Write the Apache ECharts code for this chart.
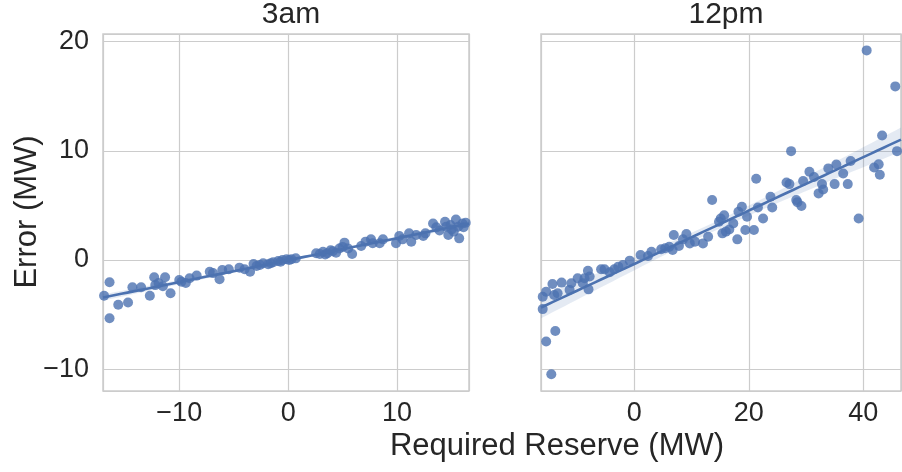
<!DOCTYPE html>
<html>
<head>
<meta charset="utf-8">
<script src="https://cdn.jsdelivr.net/npm/echarts@6/dist/echarts.min.js"></script>
<style>html,body{margin:0;padding:0;background:#fff;}#c{width:902px;height:472px;}</style>
</head>
<body>
<div id="c"></div>
<script>
// ---- data ----
const panelTitles = ['3am', '12pm'];
const xLabel = 'Required Reserve (MW)';
const yLabel = 'Error (MW)';

const x3am = [-16.9,-16.4,-16.4,-15.6,-14.7,-14.3,-13.5,-12.7,-12.3,-12.2,-11.9,-11.3,-11.5,-10.8,-10.0,-9.8,-9.4,-9.05,-8.4,-7.2,-6.9,-6.3,-6.05,-5.45,-4.47,-4.0,-3.5,-3.18,-2.9,-2.6,-2.3,-1.84,-1.6,-1.38,-0.92,-0.7,-0.52,-0.15,0.1,0.3,0.7,2.57,2.9,3.2,3.4,3.6,3.9,4.1,4.4,4.7,5.0,5.17,5.5,5.87,6.7,7.1,7.6,7.76,8.4,8.7,9.9,10.2,10.5,11.1,11.3,11.75,12.4,12.6,13.3,13.6,13.9,14.4,14.5,14.7,14.9,15.0,15.2,15.4,15.6,15.7,16.0,16.1,16.3];
const y3am = [-3.27,-2.04,-5.34,-4.1,-3.9,-2.5,-2.5,-3.27,-1.58,-2.3,-2.1,-1.58,-2.4,-3.05,-1.83,-2.0,-2.1,-1.68,-1.43,-1.07,-1.2,-1.77,-0.92,-0.85,-0.70,-0.85,-1.07,-0.37,-0.55,-0.45,-0.30,-0.39,-0.3,-0.21,-0.09,-0.15,0,0.06,0.0,0.06,0.15,0.61,0.55,0.76,0.5,0.61,0.9,0.8,0.67,1.06,1.2,1.59,1.06,0.55,1.28,1.68,1.89,1.53,1.53,1.89,1.53,2.2,1.89,2.44,1.68,2.29,2.2,2.44,3.35,2.99,2.7,3.5,3.05,2.29,3.2,2.8,2.6,3.7,3.05,1.98,3.35,3.0,3.41];

const x12pm = [40.6,45.6,43.3,45.9,27.4,41.9,42.7,42.9,39.2,37.8,37.3,36.5,35.3,35.0,33.9,32.8,33.0,32.2,31.4,30.6,29.5,29.2,28.5,28.3,27.1,26.6,24.1,23.8,22.5,21.6,21.3,20.9,19.7,19.4,18.8,18.2,18.0,17.3,16.6,16.0,15.7,15.4,15.1,14.8,13.6,12.9,12.0,10.6,9.7,9.1,8.5,7.8,6.9,6.7,6.1,5.4,4.7,3.0,2.4,1.1,-0.8,-2.0,-2.8,-3.5,-4.3,-5.2,-5.8,-8.1,-7.8,-8.7,-8.0,-9.0,-9.9,-11.0,-11.3,-12.7,-13.4,-14.3,-14.0,-15.4,-16.0,-16.0,-15.4,-13.8,-14.5];
const y12pm = [19.2,15.9,11.4,9.97,9.97,8.48,8.76,7.8,3.8,9.06,6.95,7.93,8.75,6.95,8.39,6.95,6.46,6.1,7.6,8.08,7.23,4.94,5.3,5.5,6.95,7.1,4.8,5.8,3.8,4.8,7.44,2.74,3.96,2.74,4.88,4.42,1.89,3.35,2.8,2.6,4.1,2.44,3.8,3.5,5.49,2.13,1.52,1.68,1.52,2.38,1.89,1.28,2.29,0.92,1.22,1.07,0.98,0.76,0.37,0.46,-0.06,-0.46,-0.61,-0.85,-1.13,-0.85,-0.85,-0.98,-1.52,-1.68,-2.69,-2.13,-1.68,-2.13,-2.74,-2.07,-3.05,-2.2,-3.2,-2.9,-3.36,-4.5,-7.47,-6.5,-10.46];

const xRange3am = [-17.0, 16.6];
const xRange12pm = [-16.3, 46.6];
const yRange = [-12.0, 20.7];

// ---- regression (fit + robust 95% band computed from the data) ----
function regress(xs, ys, range) {
  const n = xs.length;
  let mx = 0, my = 0;
  for (let i = 0; i < n; i++) { mx += xs[i]; my += ys[i]; }
  mx /= n; my /= n;
  let sxx = 0, sxy = 0;
  for (let i = 0; i < n; i++) { sxx += (xs[i]-mx)*(xs[i]-mx); sxy += (xs[i]-mx)*(ys[i]-my); }
  const b = sxy / sxx, a = my - b * mx;
  let sr2 = 0, sxr2 = 0;
  for (let i = 0; i < n; i++) {
    const r = ys[i] - a - b*xs[i];
    sr2 += r*r;
    sxr2 += (xs[i]-mx)*(xs[i]-mx)*r*r;
  }
  const varMean = sr2 / (n * (n - 2));
  const varB = sxr2 / (sxx * sxx) * n / (n - 2);
  const line = [], upper = [], lower = [];
  const steps = 60;
  for (let k = 0; k <= steps; k++) {
    const x = range[0] + (range[1]-range[0]) * k / steps;
    const yh = a + b * x;
    const se = Math.sqrt(varMean + (x-mx)*(x-mx)*varB);
    line.push([x, yh]);
    upper.push([x, yh + 1.96*se]);
    lower.push([x, yh - 1.96*se]);
  }
  return {line, upper, lower};
}

const fit3am = regress(x3am, y3am, xRange3am);
const fit12pm = regress(x12pm, y12pm, xRange12pm);

const BLUE = '#4c72b0';
const TXT = '#262626';
const FONT = '"Liberation Sans", Arial, sans-serif';
const fmt = v => (v < 0 ? '\u2212' + Math.abs(v) : String(v));

function zip(xs, ys) { return xs.map((x, i) => [x, ys[i]]); }

function bandSeries(fit, idx) {
  return {
    type: 'custom', xAxisIndex: idx, yAxisIndex: idx, silent: true, z: 1,
    data: [0],
    renderItem: function (params, api) {
      const pts = [];
      fit.upper.forEach(p => pts.push(api.coord(p)));
      fit.lower.slice().reverse().forEach(p => pts.push(api.coord(p)));
      return { type: 'polygon', shape: { points: pts }, style: { fill: BLUE, opacity: 0.15 } };
    }
  };
}

function xAxisCfg(idx, range) {
  return {
    gridIndex: idx, type: 'value', min: range[0], max: range[1], splitNumber: 3,
    axisLine: { show: false }, axisTick: { show: false },
    axisLabel: { color: TXT, fontSize: 27, fontFamily: FONT, margin: 9, formatter: fmt, showMinLabel: false, showMaxLabel: false },
    splitLine: { show: true, lineStyle: { color: '#cccccc', width: 1.2 } }
  };
}
function yAxisCfg(idx, showLabels) {
  return {
    gridIndex: idx, type: 'value', min: yRange[0], max: yRange[1], splitNumber: 3,
    axisLine: { show: false }, axisTick: { show: false },
    axisLabel: { show: showLabels, color: TXT, fontSize: 27, fontFamily: FONT, margin: 14, formatter: fmt, showMinLabel: false, showMaxLabel: false },
    splitLine: { show: true, lineStyle: { color: '#cccccc', width: 1.2 } }
  };
}

const chart = echarts.init(document.getElementById('c'), null, { renderer: 'canvas' });
chart.setOption({
  backgroundColor: '#ffffff',
  animation: false,
  title: [
    { text: panelTitles[0], left: 286, top: -5, textAlign: 'center', textStyle: { color: TXT, fontSize: 30, fontWeight: 'normal', fontFamily: FONT } },
    { text: panelTitles[1], left: 721, top: -5, textAlign: 'center', textStyle: { color: TXT, fontSize: 30, fontWeight: 'normal', fontFamily: FONT } }
  ],
  grid: [
    { left: 103, top: 34, width: 366, height: 357, show: true, borderColor: '#cccccc', borderWidth: 1.5, containLabel: false },
    { left: 541, top: 34, width: 360, height: 357, show: true, borderColor: '#cccccc', borderWidth: 1.5, containLabel: false }
  ],
  xAxis: [xAxisCfg(0, xRange3am), xAxisCfg(1, xRange12pm)],
  yAxis: [yAxisCfg(0, true), yAxisCfg(1, false)],
  graphic: [
    { type: 'text', x: 557, y: 446, style: { text: xLabel, textAlign: 'center', textVerticalAlign: 'middle', fill: TXT, fontSize: 31, fontFamily: FONT } },
    { type: 'text', x: 27, y: 212, rotation: Math.PI/2, style: { text: yLabel, textAlign: 'center', textVerticalAlign: 'middle', fill: TXT, fontSize: 31, fontFamily: FONT } }
  ],
  series: [
    bandSeries(fit3am, 0),
    bandSeries(fit12pm, 1),
    { type: 'scatter', xAxisIndex: 0, yAxisIndex: 0, data: zip(x3am, y3am), symbolSize: 10, itemStyle: { color: BLUE, opacity: 0.8 }, z: 3 },
    { type: 'scatter', xAxisIndex: 1, yAxisIndex: 1, data: zip(x12pm, y12pm), symbolSize: 10, itemStyle: { color: BLUE, opacity: 0.8 }, z: 3 },
    { type: 'line', xAxisIndex: 0, yAxisIndex: 0, data: fit3am.line, showSymbol: false, lineStyle: { color: BLUE, width: 2.6 }, z: 4 },
    { type: 'line', xAxisIndex: 1, yAxisIndex: 1, data: fit12pm.line, showSymbol: false, lineStyle: { color: BLUE, width: 2.6 }, z: 4 }
  ]
});
</script>
</body>
</html>
